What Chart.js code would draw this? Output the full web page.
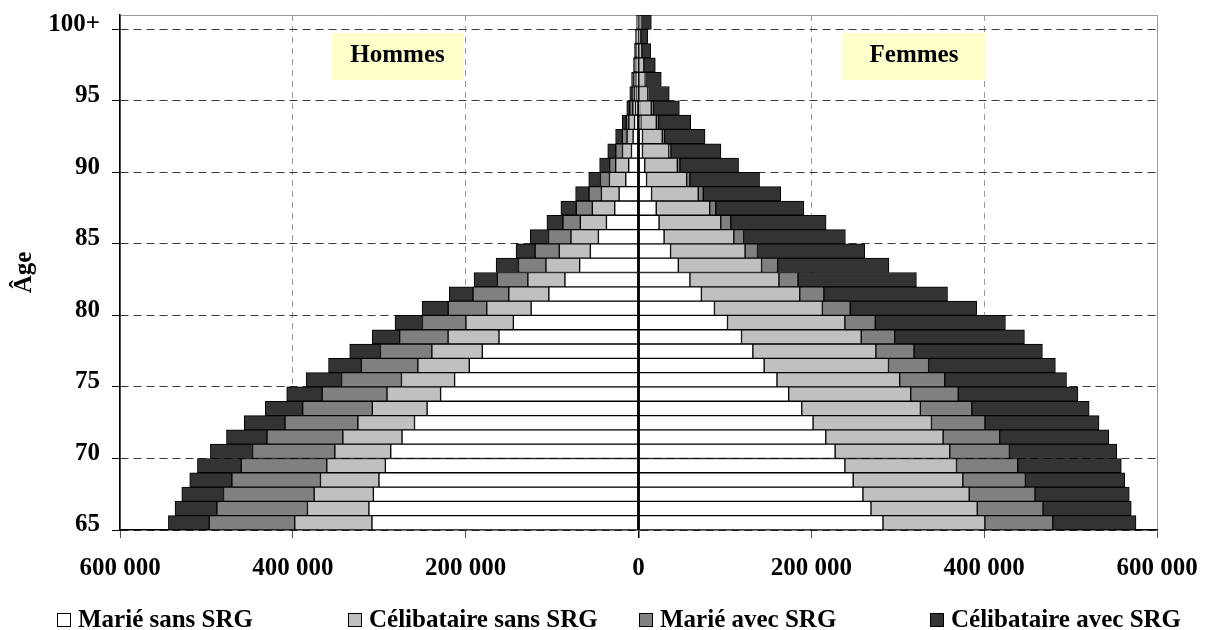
<!DOCTYPE html>
<html lang="fr">
<head>
<meta charset="utf-8">
<title>Pyramide des âges 65 ans et plus</title>
<script src="https://cdn.jsdelivr.net/npm/chart.js@4.4.1/dist/chart.umd.min.js"></script>
<style>
    html, body { margin: 0; padding: 0; background: #ffffff; }
    #graphique { display: block; }
</style>
</head>
<body>
<canvas id="graphique" width="1215" height="630"></canvas>
<script>
// Âges (une barre par âge, 100 = 100 ans et plus)
const ages = [65, 66, 67, 68, 69, 70, 71, 72, 73, 74, 75, 76, 77, 78, 79, 80, 81, 82,
              83, 84, 85, 86, 87, 88, 89, 90, 91, 92, 93, 94, 95, 96, 97, 98, 99, 100];

// Graduations de l'axe des âges et leurs étiquettes
const graduationsAge = [65, 70, 75, 80, 85, 90, 95, 100];
const etiquettesAge = ["65", "70", "75", "80", "85", "90", "95", "100+"];

const nomsSeries = ["Marié sans SRG", "Célibataire sans SRG", "Marié avec SRG", "Célibataire avec SRG"];

// Hommes (effectifs, affichés à gauche)
const hommesMarieSansSRG = [308400, 311900, 306800, 300300, 292900, 286700, 273600, 259200, 244600, 229000,
    212800, 195800, 180700, 161400, 144800, 124200, 103700, 85100, 68100, 55700,
    46400, 37100, 27500, 22400, 14700, 11300, 8100, 6200, 4600, 3100,
    2300, 1700, 1200, 900, 700, 350];
const hommesCelibSansSRG = [89400, 71200, 68500, 67700, 67800, 64700, 68500, 65500, 63400, 62000,
    61500, 59500, 58400, 58900, 54900, 51400, 46400, 42900, 39000, 36000,
    31700, 30200, 25900, 20500, 18900, 15100, 10400, 7000, 6600, 3500,
    2700, 2300, 1500, 1200, 900, 600];
const hommesMarieAvecSRG = [99000, 104800, 104900, 102500, 99000, 95200, 87800, 84300, 80600, 75000,
    69300, 65400, 59500, 56100, 50300, 44600, 41400, 35300, 31800, 27900,
    26000, 20100, 18600, 14300, 10400, 7000, 7800, 5500, 3000, 3500,
    2300, 1700, 1400, 1200, 900, 600];
const hommesCelibAvecSRG = [47200, 48400, 48300, 48800, 50700, 48800, 46900, 47200, 43300, 41100,
    41000, 38000, 35600, 31700, 31800, 30200, 27500, 27000, 25900, 22100,
    21200, 18600, 17800, 15600, 13600, 11600, 9300, 7800, 4600, 3500,
    2800, 2300, 1700, 1400, 1300, 800];

// Femmes (effectifs, affichés à droite)
const femmesMarieSansSRG = [282900, 269000, 259700, 248400, 238800, 227500, 216700, 202000, 188900, 173800,
    160200, 145400, 132300, 119200, 103000, 87900, 72800, 59500, 46100, 37100,
    29600, 23800, 20500, 15100, 9300, 7200, 4600, 4600, 2700, 1200,
    800, 800, 600, 600, 350, 600];
const femmesCelibSansSRG = [117900, 123000, 123000, 126900, 129200, 132700, 135800, 137000, 137300, 141200,
    142000, 143900, 142400, 138500, 135800, 124900, 113800, 103000, 96300, 86200,
    80700, 71400, 61900, 54000, 46400, 37700, 30500, 22900, 17900, 13600,
    10000, 7000, 5600, 3300, 2000, 2600];
const femmesMarieAvecSRG = [78600, 76100, 76100, 72400, 70800, 69000, 65400, 61900, 59500, 55000,
    52200, 46400, 44100, 38700, 35200, 32200, 27900, 22100, 18600, 14400,
    11300, 11600, 7000, 5800, 3800, 3000, 2300, 2700, 2700, 2300,
    800, 350, 250, 250, 250, 350];
const femmesCelibAvecSRG = [96300, 102100, 109100, 114900, 119900, 124200, 126200, 132000, 135800, 138500,
    140900, 146700, 148600, 150200, 150600, 146300, 143100, 137000, 128800, 124000,
    117800, 110300, 101800, 89600, 80600, 67900, 58000, 46800, 37100, 30200,
    24000, 18200, 13000, 9900, 8200, 11300];

const couleurs = ["#ffffff", "#c0c0c0", "#808080", "#333333"];
const police = "'Liberation Serif', 'Times New Roman', serif";

// chaque barre occupe l'intervalle [âge, âge + 1] de l'axe
function serie(valeurs, signe) {
    return valeurs.map((v, i) => ({ x: signe * v, y: ages[i] + 0.5 }));
}

function formatMilliers(v) {
    return String(Math.abs(v)).replace(/\B(?=(\d{3})+(?!\d))/g, " ");
}

const seriesHommes = [hommesMarieSansSRG, hommesCelibSansSRG, hommesMarieAvecSRG, hommesCelibAvecSRG];
const seriesFemmes = [femmesMarieSansSRG, femmesCelibSansSRG, femmesMarieAvecSRG, femmesCelibAvecSRG];

const datasets = [];
seriesHommes.forEach((valeurs, i) => {
    datasets.push({
        label: nomsSeries[i],
        data: serie(valeurs, -1),
        backgroundColor: couleurs[i],
        borderColor: "#000000",
        borderWidth: 1,
        borderSkipped: false
    });
});
seriesFemmes.forEach((valeurs, i) => {
    datasets.push({
        label: nomsSeries[i] + " (femmes)",
        data: serie(valeurs, 1),
        backgroundColor: couleurs[i],
        borderColor: "#000000",
        borderWidth: 1,
        borderSkipped: false
    });
});

// Cadres "Hommes" / "Femmes"
const encadresSexe = {
    id: "encadresSexe",
    afterDatasetsDraw(chart) {
        const ctx = chart.ctx;
        ctx.save();
        ctx.font = "bold 25px " + police;
        ctx.textAlign = "center";
        ctx.textBaseline = "alphabetic";
        [["Hommes", 331, 464], ["Femmes", 842, 986]].forEach(([texte, x1, x2]) => {
            ctx.fillStyle = "#ffffcc";
            ctx.fillRect(x1, 33, x2 - x1, 47);
            ctx.fillStyle = "#000000";
            ctx.fillText(texte, (x1 + x2) / 2, 62);
        });
        ctx.restore();
    }
};

// Légende en colonnes égales, comme dans Excel
const legendeBas = {
    id: "legendeBas",
    afterDraw(chart) {
        const ctx = chart.ctx;
        ctx.save();
        ctx.font = "bold 25px " + police;
        ctx.textBaseline = "alphabetic";
        nomsSeries.forEach((nom, i) => {
            const x = 57 + i * 291;
            ctx.fillStyle = couleurs[i];
            ctx.fillRect(x, 613, 13, 13);
            ctx.strokeStyle = "#000000";
            ctx.lineWidth = 1;
            ctx.strokeRect(x + 0.5, 613.5, 13, 13);
            ctx.fillStyle = "#000000";
            ctx.fillText(nom, x + 21, 627);
        });
        ctx.restore();
    }
};

new Chart(document.getElementById("graphique"), {
    type: "bar",
    data: { datasets: datasets },
    plugins: [encadresSexe, legendeBas],
    options: {
        indexAxis: "y",
        responsive: false,
        animation: false,
        devicePixelRatio: 1,
        categoryPercentage: 1,
        barPercentage: 1,
        layout: { padding: { top: 15, right: 58, left: 0, bottom: 0 } },
        plugins: {
            legend: { display: false },
            tooltip: { enabled: false }
        },
        scales: {
            x: {
                type: "linear",
                stacked: true,
                min: -600000,
                max: 600000,
                afterFit: s => { s.height = 100; },
                ticks: {
                    stepSize: 200000,
                    autoSkip: false,
                    maxRotation: 0,
                    padding: 16,
                    color: "#000000",
                    font: { family: police, size: 25, weight: "bold" },
                    callback: v => formatMilliers(v)
                },
                grid: {
                    tickLength: 8,
                    color: c => c.tick && c.tick.value === 0 ? "#000000" : "#9a9a9a",
                    lineWidth: c => c.tick && c.tick.value === 0 ? 1.5 : 1,
                    tickColor: c => c.tick && c.tick.value === 0 ? "#000000" : "#555555"
                },
                border: {
                    color: "#000000",
                    width: 1.5,
                    dash: c => (c.tick && c.tick.value !== 0 && Math.abs(c.tick.value) !== 600000) ? [6, 5] : []
                }
            },
            y: {
                type: "linear",
                stacked: true,
                offset: false,
                min: 65,
                max: 101,
                afterFit: s => {
                    s.width = 120;
                    s.paddingTop = 0;
                    s.paddingBottom = 0;
                },
                afterBuildTicks: s => {
                    s.ticks = graduationsAge.concat([101]).map(v => ({ value: v }));
                },
                ticks: {
                    autoSkip: false,
                    padding: 12,
                    labelOffset: -5,
                    color: "#000000",
                    font: { family: police, size: 25, weight: "bold" },
                    callback: v => {
                        const k = graduationsAge.indexOf(v);
                        return k >= 0 ? etiquettesAge[k] : "";
                    }
                },
                grid: {
                    offset: false,
                    tickLength: 8,
                    color: c => c.tick && c.tick.value === 101 ? "#9a9a9a" : "#3a3a3a",
                    lineWidth: 1,
                    tickColor: c => c.tick && c.tick.value === 101 ? "rgba(0,0,0,0)" : "#000000"
                },
                border: {
                    color: "#000000",
                    width: 1.5,
                    dash: c => (c.tick && c.tick.value !== 101) ? [8, 5] : []
                },
                title: {
                    display: true,
                    text: "Âge",
                    color: "#000000",
                    font: { family: police, size: 25, weight: "bold" },
                    padding: { top: 10, bottom: 0 }
                }
            }
        }
    }
});
</script>
</body>
</html>
